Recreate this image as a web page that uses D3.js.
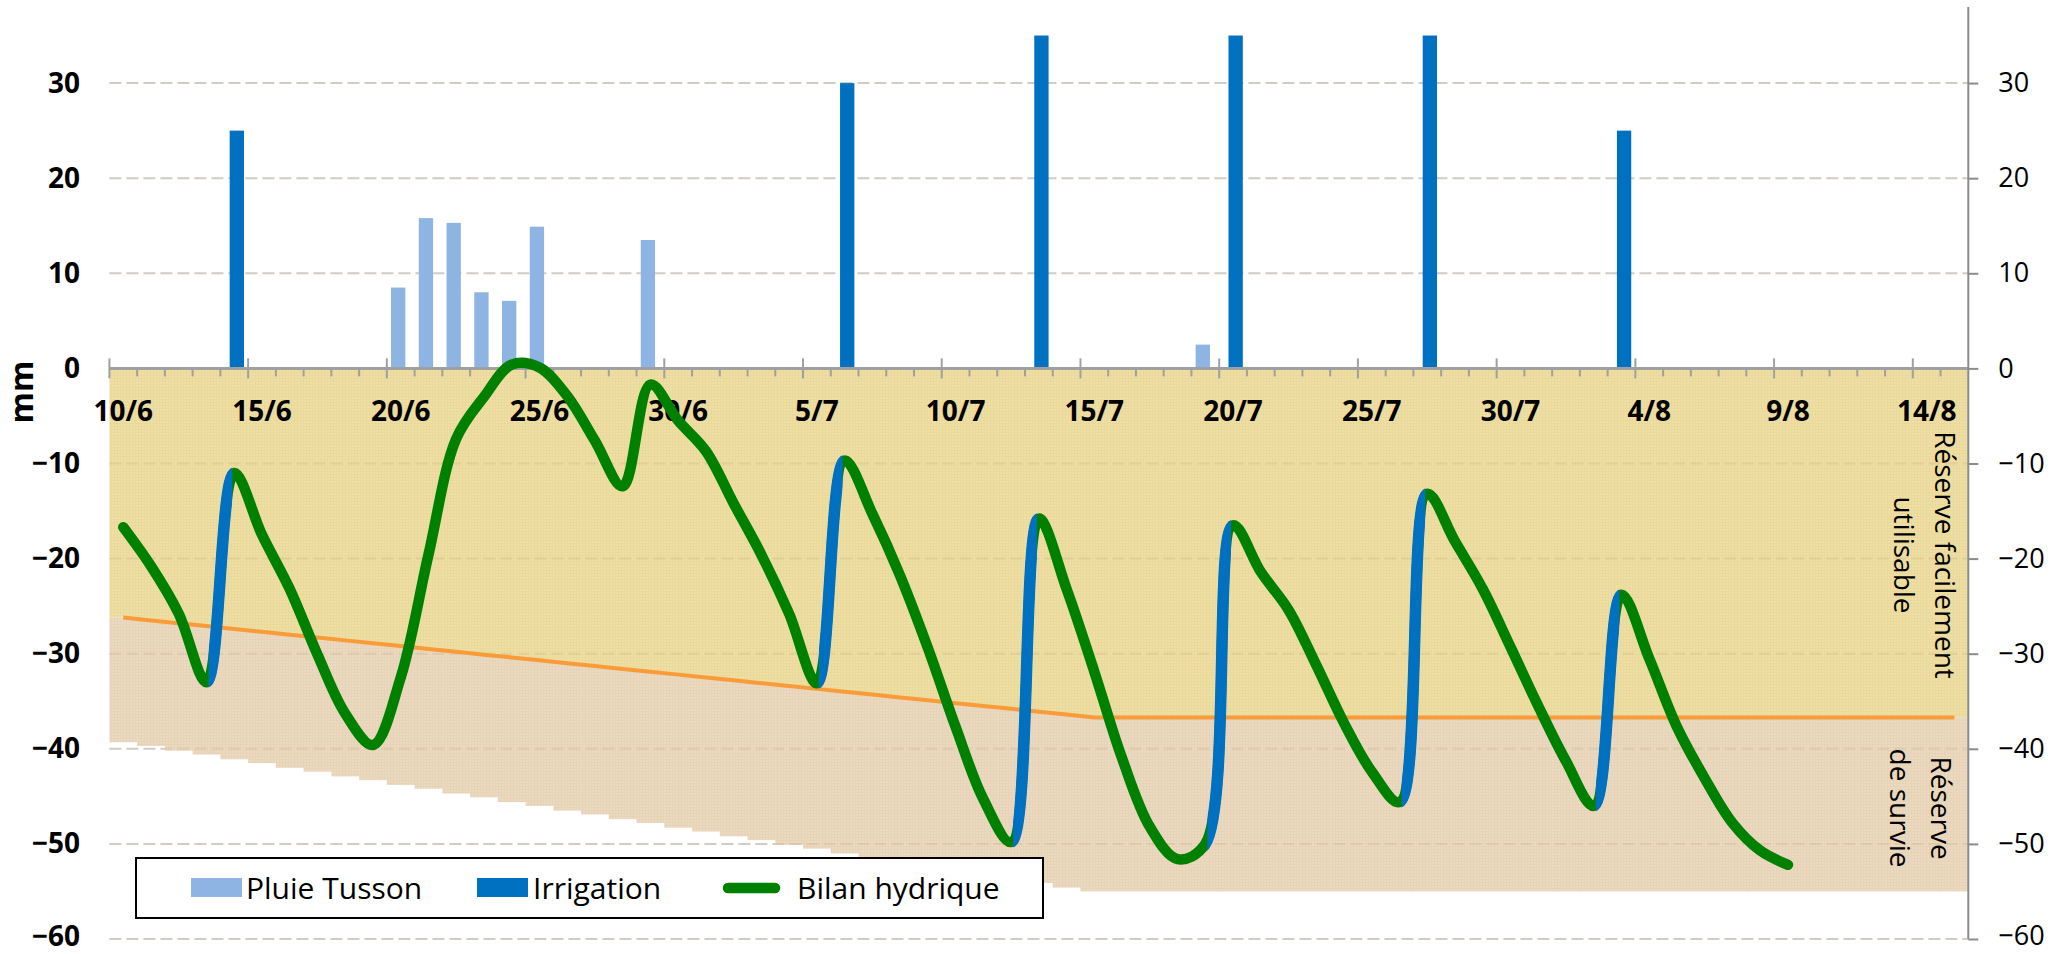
<!DOCTYPE html>
<html><head><meta charset="utf-8">
<script src="https://cdn.jsdelivr.net/npm/d3@7"></script>
<style>
html,body{margin:0;padding:0;background:#fff;}
svg{display:block;}
</style></head>
<body>
<svg id="chart" width="2062" height="954"></svg>
<script>
// ---------------- DATA ----------------
const days = ["10/6","11/6","12/6","13/6","14/6","15/6","16/6","17/6","18/6","19/6","20/6","21/6","22/6","23/6","24/6","25/6","26/6","27/6","28/6","29/6","30/6",
"1/7","2/7","3/7","4/7","5/7","6/7","7/7","8/7","9/7","10/7","11/7","12/7","13/7","14/7","15/7","16/7","17/7","18/7","19/7","20/7","21/7","22/7","23/7","24/7","25/7","26/7","27/7","28/7","29/7","30/7","31/7",
"1/8","2/8","3/8","4/8","5/8","6/8","7/8","8/8","9/8","10/8","11/8","12/8","13/8","14/8","15/8"];
const tickLabels = ["10/6","15/6","20/6","25/6","30/6","5/7","10/7","15/7","20/7","25/7","30/7","4/8","9/8","14/8"];
const yTicks = [30,20,10,0,-10,-20,-30,-40,-50,-60];

const pluieDays   = ["20/6","21/6","22/6","23/6","24/6","25/6","29/6","19/7"];
const pluieValues = [8.5, 15.8, 15.3, 8.0, 7.1, 14.9, 13.5, 2.5];

const irrigDays   = ["14/6","6/7","13/7","20/7","27/7","3/8"];
const irrigValues = [25, 30, 35, 35, 35, 25];

// Bilan hydrique, 10/6 .. 9/8
const bilan = [-16.7,-20.8,-25.8,-33.0,-11.0,-17.5,-23.2,-30.1,-36.3,-39.6,
-32.5,-19.6,-7.4,-3.0,0.4,0.1,-2.9,-7.6,-12.4,-1.7,
-5.5,-8.7,-14.2,-19.6,-25.8,-33.1,-9.7,-15.3,-21.8,-29.4,
-37.7,-45.3,-49.8,-15.8,-23.2,-31.9,-41.0,-48.2,-51.6,-50.0,
-16.5,-21.4,-25.4,-31.2,-37.3,-42.4,-45.6,-13.2,-18.2,-23.2,
-29.3,-35.5,-41.3,-46.0,-23.8,-30.5,-37.7,-43.1,-47.8,-50.7,-52.2];

// Réserve utile (bottom of the survival reserve), 10/6 .. 15/8
const reserveUtile = [-39.3,-39.7,-40.2,-40.6,-41.1,-41.5,-42.0,-42.4,-42.9,-43.3,
-43.8,-44.2,-44.7,-45.1,-45.6,-46.0,-46.5,-46.9,-47.4,-47.8,
-48.3,-48.7,-49.2,-49.6,-50.1,-50.5,-51.0,-51.4,-51.9,-52.3,
-52.8,-53.2,-53.7,-54.1,-54.6,-55.0,-55.0,-55.0,-55.0,-55.0,
-55.0,-55.0,-55.0,-55.0,-55.0,-55.0,-55.0,-55.0,-55.0,-55.0,
-55.0,-55.0,-55.0,-55.0,-55.0,-55.0,-55.0,-55.0,-55.0,-55.0,
-55.0,-55.0,-55.0,-55.0,-55.0,-55.0,-55.0];

// Réserve facilement utilisable (orange line), 10/6 .. 15/8
const reserveFacile = [-26.2,-26.5,-26.8,-27.1,-27.4,-27.7,-28.0,-28.3,-28.6,-28.9,
-29.2,-29.5,-29.8,-30.1,-30.4,-30.7,-31.0,-31.3,-31.6,-31.9,
-32.2,-32.5,-32.8,-33.1,-33.4,-33.7,-34.0,-34.3,-34.6,-34.9,
-35.2,-35.5,-35.8,-36.1,-36.4,-36.7,-36.7,-36.7,-36.7,-36.7,
-36.7,-36.7,-36.7,-36.7,-36.7,-36.7,-36.7,-36.7,-36.7,-36.7,
-36.7,-36.7,-36.7,-36.7,-36.7,-36.7,-36.7,-36.7,-36.7,-36.7,
-36.7,-36.7,-36.7,-36.7,-36.7,-36.7,-36.7];

// ---------------- CHART ----------------
const svg = d3.select("#chart");
const FONT = "'Open Sans', sans-serif";
const x = d3.scaleBand().domain(days).range([109.4, 1968.3]).paddingInner(0).paddingOuter(0);
const bw = x.bandwidth();
const y = d3.scaleLinear().domain([-60, 38]).range([939, 7]);
const xl = x.range()[0], xr = x.range()[1];

// patterns
const defs = svg.append("defs");
function pat(id, base, line) {
  const p = defs.append("pattern").attr("id", id).attr("width", 3).attr("height", 3).attr("patternUnits", "userSpaceOnUse");
  p.append("rect").attr("width", 3).attr("height", 3).attr("fill", base);
  p.append("rect").attr("width", 3).attr("height", 1).attr("fill", line);
  p.append("rect").attr("width", 1).attr("height", 3).attr("fill", line);
}
pat("pYellow", "#EFDFA3", "#E9D99C");
pat("pTan", "#ECDAC0", "#E6D3B8");

// gridlines under
const gridVals = yTicks.filter(v => v !== 0);
svg.append("g").selectAll("line").data(gridVals).join("line")
  .attr("x1", xl).attr("x2", xr).attr("y1", d => y(d)).attr("y2", d => y(d))
  .attr("stroke", "#D9D9D9").attr("stroke-width", 2).attr("stroke-dasharray", "12,5");

// reserve columns
const cols = svg.append("g");
cols.selectAll("rect.rfu").data(days).join("rect").attr("class", "rfu")
  .attr("x", d => x(d)).attr("width", bw + 0.6)
  .attr("y", y(0)).attr("height", (d, i) => y(reserveFacile[i]) - y(0))
  .attr("fill", "url(#pYellow)");
cols.selectAll("rect.rs").data(days).join("rect").attr("class", "rs")
  .attr("x", d => x(d)).attr("width", bw + 0.6)
  .attr("y", (d, i) => y(reserveFacile[i])).attr("height", (d, i) => y(reserveUtile[i]) - y(reserveFacile[i]))
  .attr("fill", "url(#pTan)");

// gridlines faint over areas
svg.append("g").selectAll("line").data(gridVals).join("line")
  .attr("x1", xl).attr("x2", xr).attr("y1", d => y(d)).attr("y2", d => y(d))
  .attr("stroke", "rgba(150,100,40,0.10)").attr("stroke-width", 2).attr("stroke-dasharray", "12,5");

// bars
const barW = bw * 0.516;
svg.append("g").selectAll("rect").data(pluieDays).join("rect")
  .attr("x", d => x(d) + bw * 0.151).attr("width", barW)
  .attr("y", (d, i) => y(pluieValues[i])).attr("height", (d, i) => y(0) - y(pluieValues[i]))
  .attr("fill", "#8EB4E3");
svg.append("g").selectAll("rect").data(irrigDays).join("rect")
  .attr("x", d => x(d) + bw * 0.335).attr("width", barW)
  .attr("y", (d, i) => y(irrigValues[i])).attr("height", (d, i) => y(0) - y(irrigValues[i]))
  .attr("fill", "#0070C0");

// x axis line + ticks
const xb = d3.scaleLinear().domain([0, days.length]).range([xl, xr]);
const xa = svg.append("g");
xa.append("line").attr("x1", xl).attr("x2", xr).attr("y1", y(0)).attr("y2", y(0))
  .attr("stroke", "#A0A0A0").attr("stroke-width", 3);
const bounds = d3.range(0, days.length);
xa.selectAll("line.tk").data(bounds).join("line").attr("class", "tk")
  .attr("x1", d => xb(d)).attr("x2", d => xb(d))
  .attr("y1", d => d % 5 === 0 ? y(0) - 10 : y(0))
  .attr("y2", d => d % 5 === 0 ? y(0) + 10 : y(0) + 8)
  .attr("stroke", "#A0A0A0").attr("stroke-width", 2);
xa.selectAll("text").data(tickLabels).join("text")
  .attr("x", d => x(d) + bw / 2).attr("y", 411).attr("dy", "0.35em")
  .attr("text-anchor", "middle").attr("font-family", FONT).attr("font-weight", "bold")
  .attr("font-size", 28).attr("fill", "#000").text(d => d);

// orange line (RFU)
svg.append("path").datum(reserveFacile)
  .attr("d", d3.line().x((d, i) => x(days[i]) + bw / 2).y(d => y(d)))
  .attr("fill", "none").attr("stroke", "#F89B38").attr("stroke-width", 4);

// green line (bilan hydrique), smoothed
const smooth = d3.curveCatmullRom.alpha(0.5);
const pts = bilan.map((v, i) => [x(days[i]) + bw / 2, y(v)]);
const curvePath = d3.line().curve(smooth)(pts);
svg.append("path").attr("d", curvePath)
  .attr("fill", "none").attr("stroke", "#008000").attr("stroke-width", 10.5)
  .attr("stroke-linecap", "round").attr("stroke-linejoin", "round");

// blue segments: same smoothed curve, clipped to the span day-before -> irrigation day
const segG = svg.append("g");
irrigDays.forEach((dd, k) => {
  const j = days.indexOf(dd);
  const x0 = pts[j - 1][0] + 2, x1 = pts[j][0] - 2;
  defs.append("clipPath").attr("id", "clipIrr" + k)
    .append("rect").attr("x", x0).attr("y", 0).attr("width", x1 - x0).attr("height", 954);
  segG.append("path").attr("d", curvePath).attr("clip-path", `url(#clipIrr${k})`)
    .attr("fill", "none").attr("stroke", "#0070C0").attr("stroke-width", 11.5)
    .attr("stroke-linejoin", "round");
});

// left axis labels
const la = svg.append("g").attr("transform", "translate(80,0)")
  .call(d3.axisLeft(y).tickValues(yTicks).tickSize(0).tickPadding(0).tickFormat(d3.format("d")));
la.select(".domain").remove();
la.selectAll("text").attr("font-family", FONT).attr("font-weight", "bold").attr("font-size", 28).attr("fill", "#000")
  .attr("dy", d => d === -60 ? "0.22em" : "0.32em");

// right axis
const ra = svg.append("g").attr("transform", `translate(${xr},0)`)
  .call(d3.axisRight(y).tickValues(yTicks).tickSize(10).tickPadding(20).tickFormat(d3.format("d")));
ra.select(".domain").attr("stroke", "#8C8C8C").attr("stroke-width", 2).attr("d", `M0,${y(38)}V${y(-60)}`);
ra.selectAll(".tick line").attr("stroke", "#8C8C8C").attr("stroke-width", 2);
ra.selectAll("text").attr("font-family", FONT).attr("font-size", 27).attr("fill", "#000")
  .attr("dy", d => d === -60 ? "0.22em" : "0.32em");

// y-axis title
svg.append("text").attr("transform", "translate(22,392) rotate(-90)")
  .attr("text-anchor", "middle").attr("dy", "0.35em")
  .attr("font-family", FONT).attr("font-weight", "bold").attr("font-size", 32).text("mm");

// zone labels
function zoneLabel(cx, cy, l1, l2) {
  const g = svg.append("g").attr("transform", `translate(${cx},${cy}) rotate(90)`);
  g.append("text").attr("x", 0).attr("y", -20).attr("dy", "0.35em").attr("text-anchor", "middle")
    .attr("font-family", FONT).attr("font-size", 28).text(l1);
  g.append("text").attr("x", 0).attr("y", 21).attr("dy", "0.35em").attr("text-anchor", "middle")
    .attr("font-family", FONT).attr("font-size", 28).text(l2);
}
zoneLabel(1925, 555, "Réserve facilement", "utilisable");
zoneLabel(1921, 808, "Réserve", "de survie");

// legend
const lg = svg.append("g");
lg.append("rect").attr("x", 136).attr("y", 858).attr("width", 907).attr("height", 60)
  .attr("fill", "#fff").attr("stroke", "#000").attr("stroke-width", 2);
lg.append("rect").attr("x", 191).attr("y", 878).attr("width", 51).attr("height", 19).attr("fill", "#8EB4E3");
lg.append("text").attr("x", 246).attr("y", 888).attr("dy", "0.35em").attr("font-family", FONT).attr("font-size", 30).text("Pluie Tusson");
lg.append("rect").attr("x", 477).attr("y", 878).attr("width", 51).attr("height", 19).attr("fill", "#0070C0");
lg.append("text").attr("x", 533).attr("y", 888).attr("dy", "0.35em").attr("font-family", FONT).attr("font-size", 30).text("Irrigation");
lg.append("line").attr("x1", 728).attr("x2", 775).attr("y1", 888).attr("y2", 888)
  .attr("stroke", "#008000").attr("stroke-width", 10.5).attr("stroke-linecap", "round");
lg.append("text").attr("x", 797).attr("y", 888).attr("dy", "0.35em").attr("font-family", FONT).attr("font-size", 30).text("Bilan hydrique");
</script>
</body></html>
